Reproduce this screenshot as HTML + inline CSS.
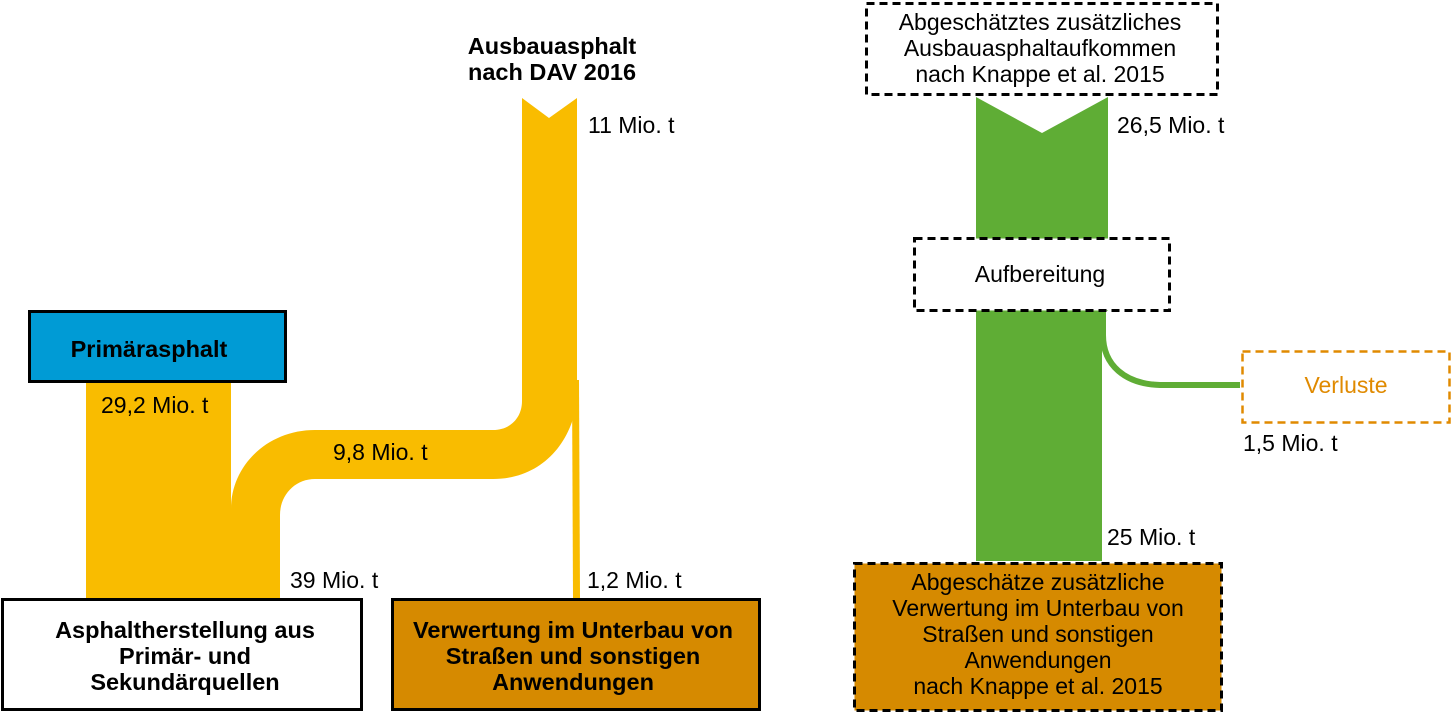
<!DOCTYPE html>
<html><head><meta charset="utf-8"><style>
html,body{margin:0;padding:0;background:#fff;}
body{width:1453px;height:714px;overflow:hidden;position:relative;font-family:"Liberation Sans",sans-serif;}
</style></head><body>
<svg width="1453" height="714" viewBox="0 0 1453 714" xmlns="http://www.w3.org/2000/svg" style="position:absolute;left:0;top:0">
<g fill="#F9BC00">
 <rect x="86" y="382" width="145" height="216"/>
 <path d="M231 598 L231 509 C231 465 268 430 315 430 L493 430 C510 430 522 418 522 401 L522 98 L549 118 L577 98 L577 401 C571 445 540 479 493 479 L315 479 C295 479 280 495 280 515 L280 598 Z"/>
 <path d="M572 380 L579 380 L580 598 L573 598 Z"/>
</g>
<rect x="29.5" y="311.5" width="256" height="70" fill="#009BD5" stroke="#000" stroke-width="3"/>
<rect x="2.5" y="599.5" width="359" height="110" fill="#fff" stroke="#000" stroke-width="3"/>
<rect x="392.5" y="599.5" width="367" height="110" fill="#D68A00" stroke="#000" stroke-width="3"/>
<g fill="#5FAD35">
 <path d="M976 97 L1042 133 L1108 97 L1108 311 L976 311 Z"/>
 <rect x="976" y="311" width="126" height="250"/>
</g>
<path d="M1103 312 L1103 335 C1103 365 1125 384 1160 385 L1240 385" fill="none" stroke="#5FAD35" stroke-width="6"/>
<rect x="866.5" y="3.5" width="351" height="91" fill="#fff" stroke="#000" stroke-width="3" stroke-dasharray="8,5"/>
<rect x="914.5" y="238.5" width="255" height="72" fill="#fff" stroke="#000" stroke-width="3" stroke-dasharray="8,5"/>
<rect x="1242.5" y="351.5" width="207" height="71" fill="#fff" stroke="#E08A00" stroke-width="2.5" stroke-dasharray="8,5"/>
<rect x="854.5" y="563.5" width="367" height="147" fill="#D68A00" stroke="#000" stroke-width="3" stroke-dasharray="8,5"/>
<g font-family="Liberation Sans, sans-serif" font-size="23" fill="#000">
 <g font-weight="bold" font-size="23.5">
 <text x="552" y="54" text-anchor="middle">Ausbauasphalt</text>
 <text x="552" y="80" text-anchor="middle">nach DAV 2016</text>
 <text x="149" y="357" text-anchor="middle">Primärasphalt</text>
 <text x="185" y="638" text-anchor="middle">Asphaltherstellung aus</text>
 <text x="185" y="664" text-anchor="middle">Primär- und</text>
 <text x="185" y="690" text-anchor="middle">Sekundärquellen</text>
 <text x="573" y="638" text-anchor="middle">Verwertung im Unterbau von</text>
 <text x="573" y="664" text-anchor="middle">Straßen und sonstigen</text>
 <text x="573" y="690" text-anchor="middle">Anwendungen</text>
 </g>
 <text x="588" y="133">11 Mio. t</text>
 <text x="101" y="413">29,2 Mio. t</text>
 <text x="333" y="460">9,8 Mio. t</text>
 <text x="290" y="588">39 Mio. t</text>
 <text x="587" y="588">1,2 Mio. t</text>
 <text x="1117" y="133">26,5 Mio. t</text>
 <text x="1107" y="545">25 Mio. t</text>
 <text x="1243" y="451">1,5 Mio. t</text>
 <text x="1346" y="393" text-anchor="middle" fill="#E08A00">Verluste</text>
 <text x="1040" y="282" text-anchor="middle">Aufbereitung</text>
 <text x="1040" y="30" text-anchor="middle">Abgeschätztes zusätzliches</text>
 <text x="1040" y="56" text-anchor="middle">Ausbauasphaltaufkommen</text>
 <text x="1040" y="82" text-anchor="middle">nach Knappe et al. 2015</text>
 <text x="1038" y="590" text-anchor="middle">Abgeschätze zusätzliche</text>
 <text x="1038" y="616" text-anchor="middle">Verwertung im Unterbau von</text>
 <text x="1038" y="642" text-anchor="middle">Straßen und sonstigen</text>
 <text x="1038" y="668" text-anchor="middle">Anwendungen</text>
 <text x="1038" y="694" text-anchor="middle">nach Knappe et al. 2015</text>
</g>
</svg>
</body></html>
